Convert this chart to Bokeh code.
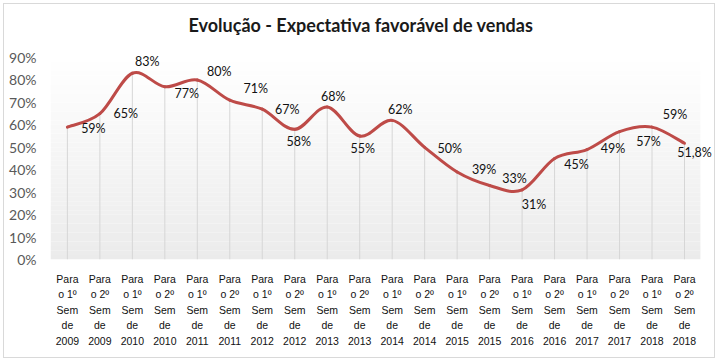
from bokeh.plotting import figure
from bokeh.models import Range1d, FixedTicker, ColumnDataSource, LabelSet, NumeralTickFormatter
from bokeh.embed import file_html
from bokeh.resources import INLINE
from bokeh.core.properties import value

# ---- data ----
categories = [
    "Para\no 1º\nSem\nde\n2009", "Para\no 2º\nSem\nde\n2009",
    "Para\no 1º\nSem\nde\n2010", "Para\no 2º\nSem\nde\n2010",
    "Para\no 1º\nSem\nde\n2011", "Para\no 2º\nSem\nde\n2011",
    "Para\no 1º\nSem\nde\n2012", "Para\no 2º\nSem\nde\n2012",
    "Para\no 1º\nSem\nde\n2013", "Para\no 2º\nSem\nde\n2013",
    "Para\no 1º\nSem\nde\n2014", "Para\no 2º\nSem\nde\n2014",
    "Para\no 1º\nSem\nde\n2015", "Para\no 2º\nSem\nde\n2015",
    "Para\no 1º\nSem\nde\n2016", "Para\no 2º\nSem\nde\n2016",
    "Para\no 1º\nSem\nde\n2017", "Para\no 2º\nSem\nde\n2017",
    "Para\no 1º\nSem\nde\n2018", "Para\no 2º\nSem\nde\n2018",
]
values = [0.59, 0.65, 0.83, 0.77, 0.80, 0.71, 0.67, 0.58, 0.68, 0.55,
          0.62, 0.50, 0.39, 0.33, 0.31, 0.45, 0.49, 0.57, 0.59, 0.518]
value_labels = ["59%", "65%", "83%", "77%", "80%", "71%", "67%", "58%", "68%", "55%",
                "62%", "50%", "39%", "33%", "31%", "45%", "49%", "57%", "59%", "51,8%"]
y_ticks = [0.0, 0.1, 0.2, 0.3, 0.4, 0.5, 0.6, 0.7, 0.8, 0.9]

# label placement (pixel offsets from each point, layout only)
label_dx = [26, 26, 15, 22, 22, 26, 25, 4, 6, 3, 8, 25, 27, 25, 12, 22, 26, 29, 23, 10]
label_dy = [1, 0, -12, 7, -8, -12, 0, 12, -10, 12, -11, 1, -2, -7, 15, 6, -1, 10, -13, 9]

FONT = "Lato"
XFONT = "Liberation Sans"
LINE_COLOR = "#be4b48"

n = len(values)
xs = list(range(n))
X_LO, X_HI, PA_HI = -0.52, 19.924, 19.49
Y_TOP, PA_TOP = 0.976, 0.9

p = figure(width=712, height=355, output_backend="svg", toolbar_location=None,
           x_range=Range1d(X_LO, X_HI), y_range=Range1d(0, Y_TOP),
           min_border_left=46, min_border_right=2, min_border_top=36, min_border_bottom=100)
p.styles = {"border": "1px solid #d9d9d9", "margin-left": "3px", "margin-top": "3px"}

# title
p.title.text = "Evolução - Expectativa favorável de vendas"
p.title.align = "left"
p.title.offset = 138
p.title.text_font = FONT
p.title.text_font_style = "bold"
p.title.text_font_size = "18px"
p.title.text_color = "#1a1a1a"
p.title.standoff = 9

p.outline_line_color = None
p.background_fill_color = "white"
p.border_fill_color = "white"
p.grid.visible = False

# plot area gradient (decorative)
nb = 45
tops = [PA_TOP * (k + 1) / nb for k in range(nb)]
bots = [PA_TOP * k / nb for k in range(nb)]
cols = []
for k in range(nb):
    t = (k + 0.5) / nb  # 0 at bottom, 1 at top
    c = int(round(0xeb + (0xff - 0xeb) * t))
    cols.append("#%02x%02x%02x" % (c, c, c))
p.quad(left=X_LO, right=PA_HI, bottom=bots, top=tops, fill_color=cols, line_color=None)

# drop lines
p.segment(x0=xs, y0=[0] * n, x1=xs, y1=values, line_color="#d6d6d6", line_width=1)

# smoothed line (Catmull-Rom style bezier through the data points)
px = [xs[0]] + xs + [xs[-1]]
py = [values[0]] + values + [values[-1]]
x0, y0, x1, y1, cx0, cy0, cx1, cy1 = [], [], [], [], [], [], [], []
for i in range(n - 1):
    a, b, c, d = i, i + 1, i + 2, i + 3
    x0.append(px[b]); y0.append(py[b])
    x1.append(px[c]); y1.append(py[c])
    cx0.append(px[b] + (px[c] - px[a]) / 6.0); cy0.append(py[b] + (py[c] - py[a]) / 6.0)
    cx1.append(px[c] - (px[d] - px[b]) / 6.0); cy1.append(py[c] - (py[d] - py[b]) / 6.0)
p.bezier(x0=x0, y0=y0, x1=x1, y1=y1, cx0=cx0, cy0=cy0, cx1=cx1, cy1=cy1,
         line_color=LINE_COLOR, line_width=3, line_cap="round")

# data labels
src = ColumnDataSource(dict(x=xs, y=values, t=value_labels, dx=label_dx,
                            dy=[-d for d in label_dy]))
labels = LabelSet(x="x", y="y", text="t", x_offset="dx", y_offset="dy", source=src,
                  text_font=value(FONT), text_font_size="12.5px", text_color="#111111",
                  text_align="center", text_baseline="middle")
p.add_layout(labels)

# axes
p.yaxis.ticker = FixedTicker(ticks=y_ticks)
p.yaxis.formatter = NumeralTickFormatter(format="0%")
p.yaxis.axis_line_color = None
p.yaxis.major_tick_line_color = None
p.yaxis.minor_tick_line_color = None
p.yaxis.major_label_text_font = FONT
p.yaxis.major_label_text_font_size = "14px"
p.yaxis.major_label_text_color = "#595959"
p.yaxis.major_label_standoff = 8

p.xaxis.ticker = FixedTicker(ticks=xs)
p.xaxis.major_label_overrides = {i: categories[i] for i in xs}
p.xaxis.axis_line_color = None
p.xaxis.major_tick_line_color = None
p.xaxis.minor_tick_line_color = None
p.xaxis.major_label_text_font = XFONT
p.xaxis.major_label_text_font_size = "10.5px"
p.xaxis.major_label_text_color = "#111111"
p.xaxis.major_label_text_line_height = 1.3
p.xaxis.major_label_standoff = 7

open("out.html", "w").write(file_html(p, INLINE))
